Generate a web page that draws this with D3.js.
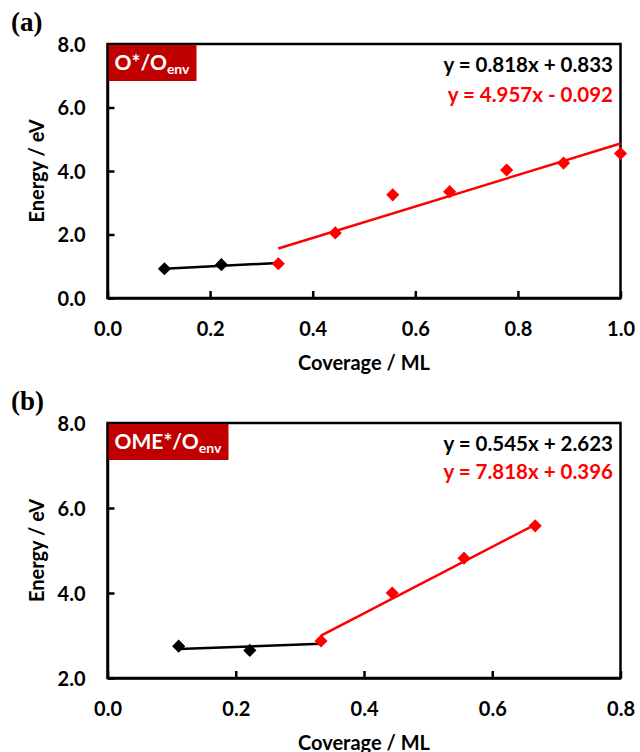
<!DOCTYPE html>
<html><head><meta charset="utf-8">
<script src="https://cdn.jsdelivr.net/npm/d3@7"></script>
<style>body{margin:0;background:#fff}svg{display:block}</style>
</head><body>
<svg id="c" width="640" height="752"></svg>
<script>
// ---- data ----
const coverageA = [0.111, 0.222, 0.333, 0.444, 0.556, 0.667, 0.778, 0.889, 1.0];
const blackA = [0.92, 1.05];           // at coverage 0.111, 0.222
const redA = [1.08, 2.05, 3.25, 3.35, 4.03, 4.25, 4.55]; // coverage 0.333..1.0
const fitA = {black:[0.818, 0.833], red:[4.957, -0.092]};
const fitRangeA = {black:[0.111, 0.333], red:[0.333, 1.0]};
const eqA = ["y = 0.818x + 0.833", "y = 4.957x - 0.092"];

const coverageB = [0.111, 0.222, 0.333, 0.444, 0.556, 0.667];
const blackB = [2.75, 2.65];
const redB = [2.87, 4.0, 4.82, 5.58];
const fitB = {black:[0.545, 2.623], red:[7.818, 0.396]};
const fitRangeB = {black:[0.111, 0.333], red:[0.333, 0.667]};
const eqB = ["y = 0.545x + 2.623", "y = 7.818x + 0.396"];

const xTicksA = [0, 0.2, 0.4, 0.6, 0.8, 1.0];
const yTicksA = [0, 2, 4, 6, 8];
const xTicksB = [0, 0.2, 0.4, 0.6, 0.8];
const yTicksB = [2, 4, 6, 8];

const svg = d3.select("#c");
const FONT = "Lato, 'Open Sans', sans-serif";

function panel(o){
  const x = d3.scaleLinear().domain(o.xd).range([107.5, 620.5]);
  const y = d3.scaleLinear().domain(o.yd).range([o.bottom, o.top]);
  const g = svg.append("g");
  // frame
  g.append("rect").attr("x", x.range()[0]).attr("y", o.top)
    .attr("width", x.range()[1]-x.range()[0]).attr("height", o.bottom-o.top)
    .attr("fill","none").attr("stroke","#000").attr("stroke-width",2.5);
  // axes
  const xa = g.append("g").attr("transform",`translate(0,${o.bottom})`)
    .call(d3.axisBottom(x).tickValues(o.xt).tickSizeInner(-7).tickSizeOuter(0).tickPadding(24).tickFormat(d3.format(".1f")));
  const ya = g.append("g").attr("transform",`translate(${x.range()[0]},0)`)
    .call(d3.axisLeft(y).tickValues(o.yt).tickSizeInner(-7).tickSizeOuter(0).tickPadding(22).tickFormat(d3.format(".1f")));
  [xa, ya].forEach(a=>{
    a.select(".domain").attr("stroke","#000").attr("stroke-width",2.5);
    a.selectAll(".tick line").attr("stroke","#000").attr("stroke-width",2.5);
    a.selectAll(".tick text").attr("fill","#000").attr("font-family",FONT)
      .attr("font-weight","bold").attr("font-size",20);
  });
  ya.selectAll(".tick text").attr("dy","0.36em");
  // trend lines
  ["black","red"].forEach(k=>{
    const [m,b] = o.fit[k]; const r = o.fr[k];
    g.append("line").attr("x1",x(r[0])).attr("x2",x(r[1]))
      .attr("y1",y(m*r[0]+b)).attr("y2",y(m*r[1]+b))
      .attr("stroke", k==="red"?"#ff0000":"#000").attr("stroke-width",2.5);
  });
  // markers
  const diamond = d3.symbol().type(d3.symbolDiamond2).size(110);
  const pts = o.black.map((v,i)=>({x:o.cov[i], y:v, c:"#000"}))
    .concat(o.red.map((v,i)=>({x:o.cov[i+o.black.length], y:v, c:"#ff0000"})));
  g.selectAll("path.pt").data(pts).join("path").attr("class","pt")
    .attr("d", diamond).attr("transform", d=>`translate(${x(d.x)},${y(d.y)})`)
    .attr("fill", d=>d.c);
  // label box
  const lb = g.append("g");
  lb.append("rect").attr("x", x.range()[0]+1).attr("y", o.top+1)
    .attr("width", o.boxW).attr("height", 36).attr("fill","#c00000");
  const t = lb.append("text").attr("x", x.range()[0]+7).attr("y", o.top+26)
    .attr("fill","#fff").attr("font-family",FONT).attr("font-weight","bold").attr("font-size",21);
  t.append("tspan").text(o.label);
  t.append("tspan").attr("font-size",14).attr("dy",4).text("env");
  // equations
  o.eq.forEach((s,i)=>{
    g.append("text").attr("x",613).attr("y",o.top+28+i*o.eqGap).attr("text-anchor","end")
      .attr("fill", i? "#ff0000":"#000").attr("font-family",FONT).attr("font-weight","bold")
      .attr("font-size",20.5).text(s);
  });
  // axis titles
  g.append("text").attr("x",364).attr("y",o.bottom+72).attr("text-anchor","middle")
    .attr("font-family",FONT).attr("font-weight","bold").attr("font-size",20).text("Coverage / ML");
  g.append("text").attr("transform",`translate(44,${(o.top+o.bottom)/2}) rotate(-90)`)
    .attr("text-anchor","middle").attr("font-family",FONT).attr("font-weight","bold")
    .attr("font-size",20).text("Energy / eV");
  // panel letter
  g.append("text").attr("x",11).attr("y",o.top-13).attr("font-family","'Liberation Serif', serif")
    .attr("font-weight","bold").attr("font-size",27).text(o.letter);
}

panel({xd:[0,1], yd:[0,8], top:44, bottom:298, xt:xTicksA, yt:yTicksA, cov:coverageA,
  black:blackA, red:redA, fit:fitA, fr:fitRangeA, eq:eqA, eqGap:30, label:"O*/O", boxW:88, letter:"(a)"});
panel({xd:[0,0.8], yd:[2,8], top:423, bottom:678, xt:xTicksB, yt:yTicksB, cov:coverageB,
  black:blackB, red:redB, fit:fitB, fr:fitRangeB, eq:eqB, eqGap:28, label:"OME*/O", boxW:120, letter:"(b)"});
</script>
</body></html>
